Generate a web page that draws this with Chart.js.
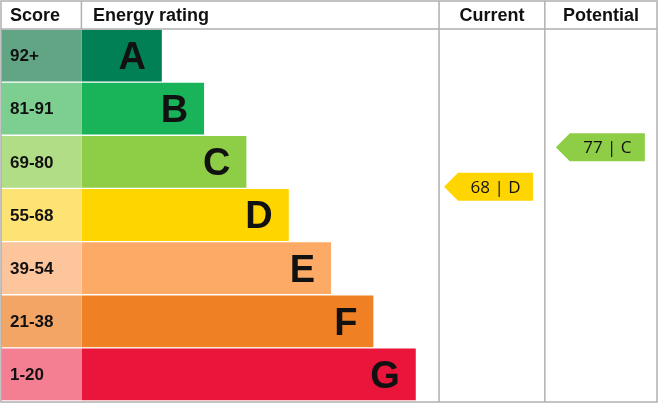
<!DOCTYPE html>
<html><head><meta charset="utf-8">
<script src="https://cdn.jsdelivr.net/npm/chart.js@4"></script>
<style>html,body{margin:0;padding:0;background:#fff}#wrap{width:658px;height:404px}</style>
</head><body><div id="wrap"><canvas id="c"></canvas></div>
<script>
const ratings = ['A', 'B', 'C', 'D', 'E', 'F', 'G'];
const scoreLabels = ['92+', '81-91', '69-80', '55-68', '39-54', '21-38', '1-20'];
const barLengths = [1.9, 2.9, 3.9, 4.9, 5.9, 6.9, 7.9];
const barColors = ['#008054', '#19b459', '#8dce46', '#ffd500', '#fcaa65', '#ef8023', '#e9153b'];
const scoreColors = ['#62a585', '#7ccf90', '#b2dd87', '#fde373', '#fdc59c', '#f3a566', '#f47f93'];
const current = { score: 68, rating: 'D' };
const potential = { score: 77, rating: 'C' };

const SCORE_W = 1.9;
const COL_CURRENT = 8.45, COL_POTENTIAL = 10.95;

const epcPlugin = {
  id: 'epc',
  afterDatasetsDraw(chart) {
    const { ctx, chartArea: a, scales: { x, y, y2 } } = chart;
    ctx.save();
    // letters and score labels
    ratings.forEach((r, i) => {
      const cy = y.getPixelForValue(i);
      ctx.fillStyle = '#111';
      ctx.font = 'bold 38px "Liberation Sans", Arial';
      ctx.textAlign = 'right'; ctx.textBaseline = 'middle';
      ctx.fillText(r, x.getPixelForValue(barLengths[i]) - 16, cy + 3);
      ctx.font = 'bold 17px "Liberation Sans", Arial';
      ctx.textAlign = 'left';
      ctx.fillText(scoreLabels[i], x.getPixelForValue(-SCORE_W) + 9, cy + 1);
    });
    // grid
    ctx.strokeStyle = '#b0b0b0'; ctx.lineWidth = 1.5;
    ctx.strokeRect(1, 1, 656, 401);
    ctx.beginPath();
    ctx.moveTo(1, a.top); ctx.lineTo(657, a.top);
    const xs = [x.getPixelForValue(0), x.getPixelForValue(COL_CURRENT), x.getPixelForValue(COL_POTENTIAL)];
    ctx.moveTo(xs[0], 1); ctx.lineTo(xs[0], a.top);
    ctx.moveTo(xs[1], 1); ctx.lineTo(xs[1], 402);
    ctx.moveTo(xs[2], 1); ctx.lineTo(xs[2], 402);
    ctx.stroke();
    // header
    ctx.fillStyle = '#111';
    ctx.font = 'bold 18px "Liberation Sans", Arial';
    ctx.textBaseline = 'middle'; ctx.textAlign = 'left';
    ctx.fillText('Score', 10, 16);
    ctx.fillText('Energy rating', 93, 16);
    ctx.textAlign = 'center';
    ctx.fillText('Current', (xs[1] + xs[2]) / 2, 16);
    ctx.fillText('Potential', (xs[2] + 657) / 2, 16);
    // arrows
    const arrow = (d, left, right) => {
      const cy = y2.getPixelForValue(d.score);
      const idx = ratings.indexOf(d.rating);
      ctx.fillStyle = barColors[idx];
      ctx.beginPath();
      ctx.moveTo(left, cy);
      ctx.lineTo(left + 14, cy - 14);
      ctx.lineTo(right, cy - 14);
      ctx.lineTo(right, cy + 14);
      ctx.lineTo(left + 14, cy + 14);
      ctx.closePath(); ctx.fill();
      ctx.fillStyle = '#111';
      ctx.font = '17px "Open Sans", "Liberation Sans", Arial';
      ctx.textAlign = 'center';
      ctx.fillText(d.score + ' | ' + d.rating, (left + right) / 2 + 7, cy + 1);
    };
    arrow(current, xs[1] + 5, xs[1] + 94);
    arrow(potential, xs[2] + 11, xs[2] + 100);
    ctx.restore();
  }
};

new Chart(document.getElementById('c'), {
  type: 'bar',
  data: {
    labels: ratings,
    datasets: [
      { data: ratings.map(() => [-SCORE_W, 0]), backgroundColor: scoreColors, yAxisID: 'y' },
      { data: barLengths.map(v => [0, v]), backgroundColor: barColors, yAxisID: 'y' }
    ]
  },
  options: {
    indexAxis: 'y', responsive: true, maintainAspectRatio: false, animation: false,
    layout: { padding: { top: 29, left: 1, right: 1, bottom: 3 } },
    datasets: { bar: { grouped: false, barPercentage: 1, categoryPercentage: 1,
      borderWidth: { top: 1, bottom: 1 }, borderColor: '#fff', borderSkipped: false } },
    scales: {
      x: { display: false, min: -SCORE_W, max: 13.6 },
      y: { display: false },
      y2: { display: false, type: 'linear', min: 24.0, max: 99.2 }
    },
    plugins: { legend: { display: false }, tooltip: { enabled: false } }
  },
  plugins: [epcPlugin]
});
</script></body></html>
